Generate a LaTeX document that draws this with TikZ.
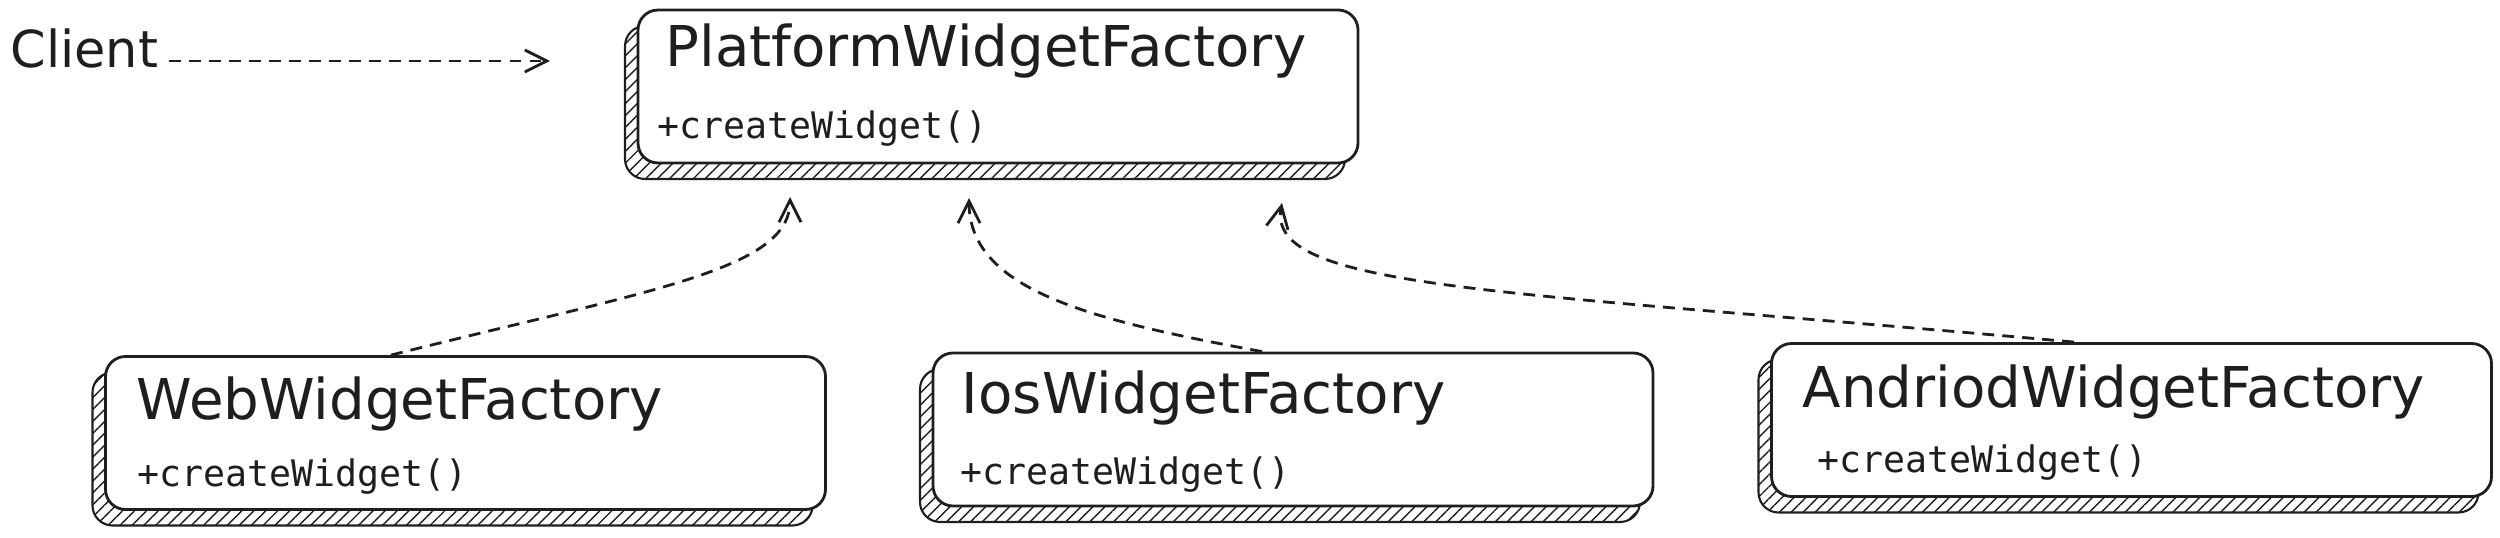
\documentclass[tikz,border=0pt]{standalone}
\usepackage{fontspec}
\setmainfont{DejaVu Sans}
\setmonofont{DejaVu Sans Mono}
\usetikzlibrary{arrows.meta,patterns.meta,shadows}
\definecolor{ink}{HTML}{1E1E1E}
\begin{document}
\begin{tikzpicture}[>={Straight Barb[length=2.2mm,width=2.2mm]},
    classbox/.style={draw=ink, line width=0.8pt, fill=white, rounded corners=2mm,
      minimum width=7.2cm, minimum height=1.53cm, inner sep=0pt,
      general shadow={shadow xshift=-1.3mm, shadow yshift=-1.6mm, draw=ink, line width=0.6pt,
        pattern={Lines[angle=45,distance=2.4pt,line width=0.4pt]}, pattern color=ink}},
    classname/.style={text=ink, font=\fontsize{16}{19}\selectfont, inner sep=0pt, anchor=base west},
    method/.style={text=ink, font=\ttfamily\fontsize{10.4}{12}\selectfont, inner sep=0pt, anchor=west},
    dep/.style={->, dash pattern=on 3.4pt off 2.3pt, draw=ink, line width=0.8pt}]
    \useasboundingbox (0,0) rectangle (25,-5.38);

    \node[classname, font=\fontsize{14.5}{17}\selectfont] (client) at (0.10,-0.68) {Client};
    \coordinate (clienttip) at (5.50,-0.61);

    \node[classbox] (pf) at (9.98,-0.865) {};
    \node[classname] (pfname) at (6.65,-0.67) {PlatformWidgetFactory};
    \node[method] (pfop) at (6.57,-1.29) {+createWidget()};

    \node[classbox] (wwf) at (4.655,-4.33) {};
    \node[classname] (wwfname) at (1.36,-4.20) {WebWidgetFactory};
    \node[method] (wwfop) at (1.37,-4.77) {+createWidget()};

    \node[classbox] (iwf) at (12.93,-4.295) {};
    \node[classname] (iwfname) at (9.61,-4.14) {IosWidgetFactory};
    \node[method] (iwfop) at (9.60,-4.75) {+createWidget()};

    \node[classbox] (awf) at (21.315,-4.20) {};
    \node[classname] (awfname) at (18.02,-4.08) {AndriodWidgetFactory};
    \node[method] (awfop) at (18.17,-4.63) {+createWidget()};

    \coordinate (wwftip) at (7.90,-1.97);
    \coordinate (iwftip) at (9.69,-1.98);
    \coordinate (awftip) at (12.82,-2.03);

    \draw[dep, shorten <=1mm] (client.east |- clienttip) -- (clienttip);
    \draw[dep] ([xshift=-7.45mm]wwf.north) .. controls (6.5,-2.9) and (7.9,-2.7) .. (wwftip);
    \draw[dep] ([xshift=-3.1mm]iwf.north) .. controls (10.9,-3.2) and (9.69,-2.9) .. (iwftip);
    \draw[dep] ([xshift=-5.75mm]awf.north) .. controls (15.0,-2.9) and (12.65,-2.9) .. (awftip);
\end{tikzpicture}
\end{document}
